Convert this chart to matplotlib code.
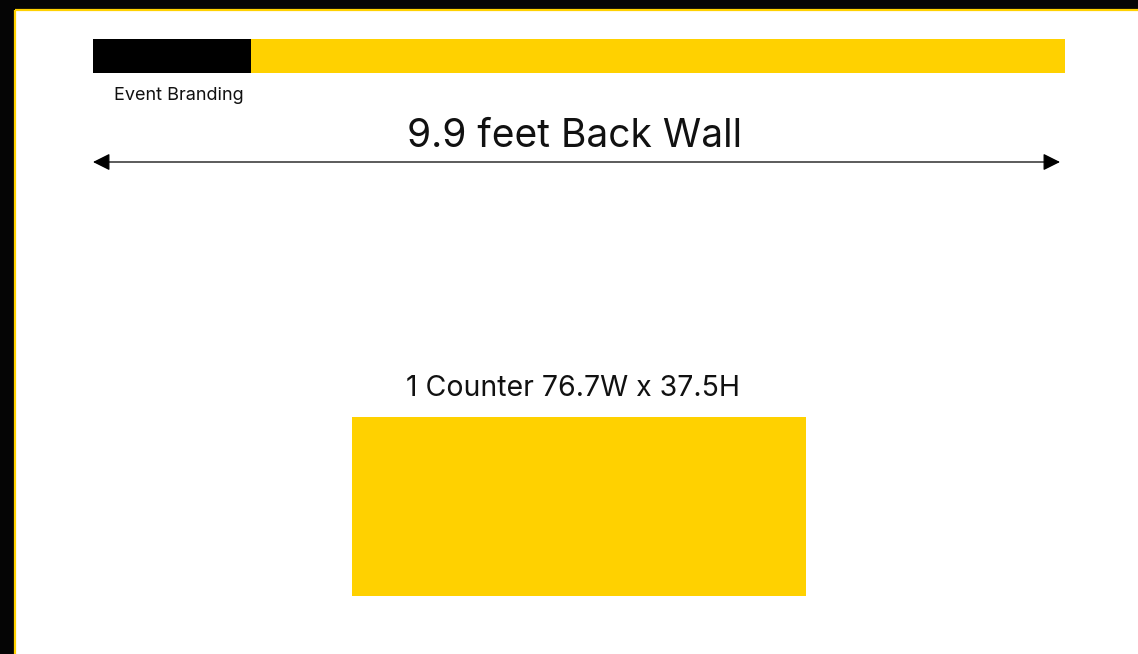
import matplotlib
matplotlib.use("Agg")
import matplotlib.pyplot as plt
from matplotlib.patches import Rectangle, FancyArrowPatch

W, H = 1138, 654

# Labels
title_text = "9.9 feet Back Wall"
branding_text = "Event Branding"
counter_text = "1 Counter 76.7W x 37.5H"

# Colors
yellow = "#FFD100"
black = "#000000"

# Geometry (pixel layout of the drawing)
frame = [15, 10]                        # left, top of white canvas
brand_black = [93, 39, 158, 34]         # x, y, w, h
brand_yellow = [251, 39, 814, 34]
arrow_span = [93, 1060, 162]            # x0, x1, y
counter_box = [352, 417, 454, 179]

fig = plt.figure(figsize=(W / 100, H / 100), dpi=100, facecolor="#050505")
ax = fig.add_axes([0, 0, 1, 1])
ax.set_xlim(0, W)
ax.set_ylim(H, 0)
ax.axis("off")

# white canvas with yellow edge
ax.add_patch(Rectangle((frame[0], frame[1]), W - frame[0], H - frame[1],
                       facecolor="white", edgecolor="none"))
ax.plot([frame[0], frame[0]], [frame[1], H], color=yellow, lw=1.6, solid_capstyle="butt")
ax.plot([frame[0], W], [frame[1], frame[1]], color=yellow, lw=1.6, solid_capstyle="butt")

# branding bars
ax.add_patch(Rectangle((brand_black[0], brand_black[1]), brand_black[2], brand_black[3],
                       facecolor=black, edgecolor="none"))
ax.add_patch(Rectangle((brand_yellow[0], brand_yellow[1]), brand_yellow[2], brand_yellow[3],
                       facecolor=yellow, edgecolor="none"))
ax.text(178.5, 100, branding_text, ha="center", va="baseline", fontsize=13,
        family="Inter", color="#111111")

# title + arrow
ax.text(575, 147, title_text, ha="center", va="baseline", fontsize=28,
        family="Inter", color="#111111")
ax.add_patch(FancyArrowPatch((arrow_span[0], arrow_span[2]), (arrow_span[1], arrow_span[2]),
                             arrowstyle="<|-|>,head_length=8,head_width=4",
                             mutation_scale=1.3, color=black, lw=0.9,
                             shrinkA=0, shrinkB=0))

# counter
ax.text(573.5, 396, counter_text, ha="center", va="baseline", fontsize=20.5,
        family="Inter", color="#111111")
ax.add_patch(Rectangle((counter_box[0], counter_box[1]), counter_box[2], counter_box[3],
                       facecolor=yellow, edgecolor="none"))

fig.savefig("out.png", dpi=100, facecolor=fig.get_facecolor())
